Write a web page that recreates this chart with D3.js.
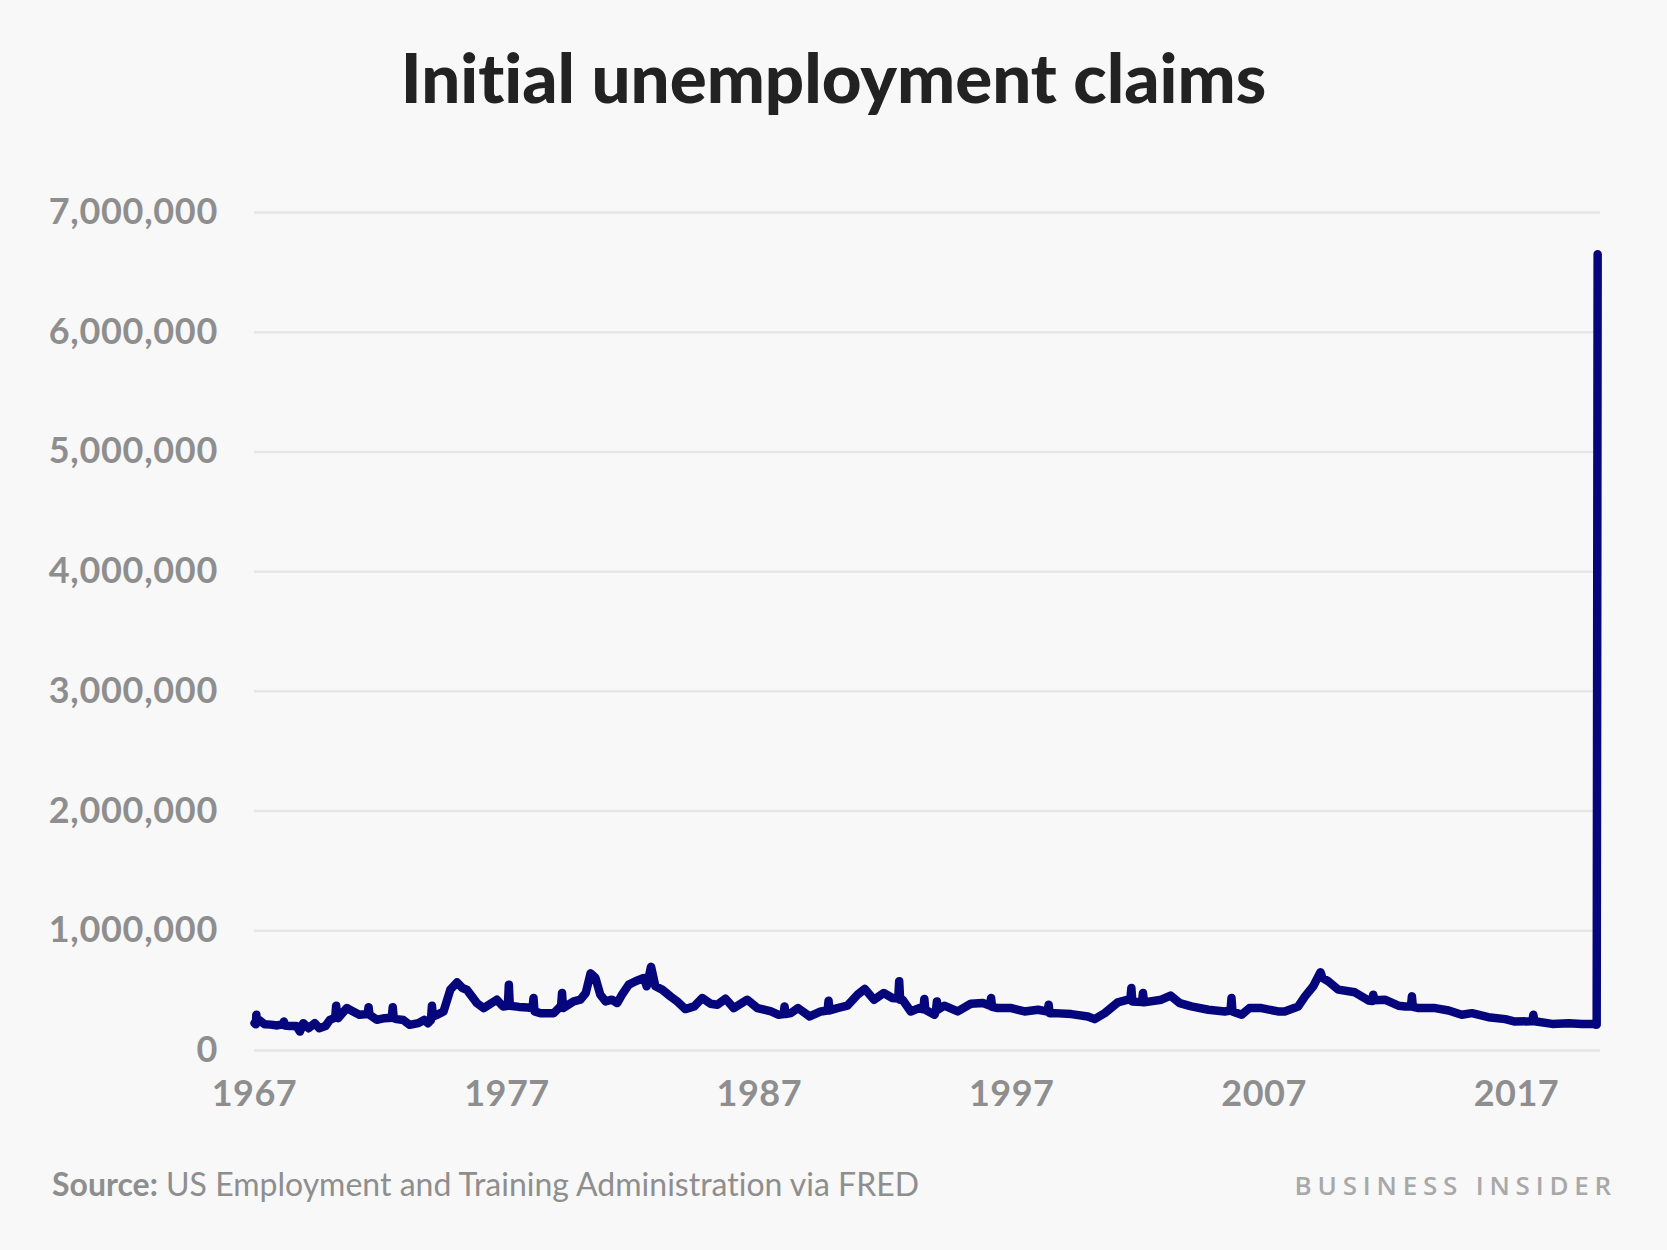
<!DOCTYPE html>
<html>
<head>
<meta charset="utf-8">
<script src="https://cdn.jsdelivr.net/npm/d3@7"></script>
<style>
  html, body { margin: 0; padding: 0; background: #f8f8f8; }
  svg { display: block; font-family: Lato, "Open Sans", sans-serif; font-variant-ligatures: none; }
</style>
</head>
<body>
<div class="js-chart"></div>
<script>
'use strict';

// weekly initial claims (not every week, just enough to follow the shape)
const weeks = [
    '1967-01-07', '1967-01-28', '1967-02-04', '1967-02-11', '1967-03-18', '1967-06-03', '1967-09-02', '1967-12-02',
    '1968-02-24', '1968-03-09', '1968-03-23', '1968-06-01', '1968-09-07', '1968-10-26', '1968-12-14',
    '1969-03-01', '1969-05-31', '1969-08-02', '1969-11-01',
    '1970-01-03', '1970-03-21', '1970-04-04', '1970-04-18', '1970-05-02', '1970-09-05', '1970-12-05',
    '1971-03-06', '1971-07-03', '1971-07-17', '1971-07-31', '1971-11-13',
    '1972-03-04', '1972-06-17', '1972-07-01', '1972-07-15', '1972-08-26', '1972-12-02',
    '1973-03-03', '1973-07-07', '1973-09-29', '1973-11-24',
    '1974-01-05', '1974-01-19', '1974-02-02', '1974-04-06', '1974-07-06', '1974-10-12',
    '1975-01-18', '1975-04-05', '1975-06-07', '1975-11-01',
    '1976-02-07', '1976-08-14', '1976-11-13',
    '1977-01-22', '1977-02-05', '1977-02-19', '1977-07-02', '1977-11-05',
    '1978-01-14', '1978-01-28', '1978-02-11', '1978-05-06', '1978-11-18',
    '1979-03-03', '1979-03-17', '1979-03-31', '1979-09-01', '1979-12-08',
    '1980-02-23', '1980-05-03', '1980-07-12', '1980-09-20', '1980-12-06',
    '1981-03-07', '1981-05-23', '1981-08-01', '1981-11-07',
    '1982-02-13', '1982-06-12', '1982-07-24', '1982-09-25', '1982-11-27',
    '1983-03-05', '1983-07-02', '1983-10-08',
    '1984-02-04', '1984-06-09', '1984-10-06',
    '1985-02-02', '1985-05-11', '1985-09-07',
    '1986-01-04', '1986-07-19', '1986-12-13',
    '1987-06-27', '1987-10-17', '1987-12-26',
    '1988-01-09', '1988-01-23', '1988-04-09', '1988-07-23',
    '1989-01-07', '1989-06-17', '1989-09-23', '1989-10-07', '1989-10-21',
    '1990-02-10', '1990-07-07', '1990-12-01',
    '1991-03-16', '1991-07-27', '1991-12-14',
    '1992-04-18', '1992-07-11', '1992-07-25', '1992-08-08', '1992-09-12',
    '1993-01-09', '1993-05-08', '1993-07-10', '1993-07-24', '1993-08-07', '1993-12-18',
    '1994-01-08', '1994-01-22', '1994-02-05', '1994-05-07', '1994-11-19',
    '1995-05-27', '1995-11-18',
    '1996-03-02', '1996-03-16', '1996-03-30', '1996-06-22',
    '1997-01-04', '1997-07-12',
    '1998-01-24', '1998-06-13', '1998-06-27', '1998-07-11', '1998-09-19',
    '1999-05-22',
    '2000-01-15', '2000-04-22', '2000-09-16',
    '2001-03-24', '2001-08-18', '2001-09-22', '2001-10-06', '2001-10-20',
    '2002-03-09', '2002-03-23', '2002-04-06', '2002-12-14',
    '2003-04-26', '2003-09-06',
    '2004-02-21', '2004-10-23',
    '2005-06-18', '2005-09-10', '2005-09-24', '2005-10-08',
    '2006-02-18', '2006-06-10', '2006-12-02',
    '2007-07-28', '2007-11-03',
    '2008-05-17', '2008-08-23', '2008-12-20',
    '2009-04-04', '2009-05-02', '2009-07-25', '2009-12-19',
    '2010-08-14',
    '2011-02-26', '2011-04-23', '2011-05-07', '2011-05-21', '2011-10-22',
    '2012-05-05', '2012-08-11', '2012-11-03', '2012-11-17', '2012-12-01',
    '2013-02-23', '2013-10-19',
    '2014-05-03', '2014-11-08',
    '2015-04-04', '2015-11-28',
    '2016-07-30', '2016-12-17',
    '2017-08-26', '2017-09-09', '2017-09-23', '2017-10-21',
    '2018-06-09',
    '2019-02-02', '2019-08-17',
    '2020-01-11', '2020-03-14', '2020-03-21', '2020-03-28'
];

const claims = [
    224000, 215000, 294000, 240000, 250000, 215000, 212000, 205000,
    215000, 238000, 205000, 200000, 200000, 154000, 224000,
    182000, 224000, 182000, 200000,
    252000, 270000, 370000, 280000, 266000, 350000, 322000,
    294000, 300000, 358000, 294000, 252000,
    266000, 270000, 358000, 265000, 258000, 250000,
    210000, 224000, 252000, 224000,
    250000, 370000, 280000, 294000, 322000, 504000,
    565000, 518000, 504000, 392000,
    350000, 420000, 364000,
    370000, 546000, 370000, 360000, 355000,
    350000, 434000, 322000, 308000, 308000,
    370000, 476000, 350000, 406000, 420000,
    476000, 640000, 602000, 462000, 406000,
    420000, 392000, 462000, 546000,
    574000, 602000, 532000, 695000, 532000,
    504000, 448000, 406000,
    342000, 364000, 434000,
    386000, 378000, 428000,
    350000, 420000, 350000,
    322000, 294000, 300000,
    364000, 300000, 308000, 350000,
    280000, 322000, 330000, 412000, 330000,
    350000, 370000, 462000,
    510000, 420000, 476000,
    434000, 430000, 574000, 420000, 420000,
    322000, 350000, 340000, 426000, 336000, 294000,
    330000, 406000, 336000, 370000, 322000,
    386000, 392000,
    370000, 434000, 360000, 350000,
    350000, 322000,
    336000, 320000, 378000, 308000, 308000,
    300000,
    280000, 258000, 308000,
    398000, 420000, 430000, 518000, 406000,
    400000, 476000, 398000, 420000,
    454000, 392000,
    364000, 336000,
    322000, 330000, 434000, 322000,
    294000, 350000, 350000,
    322000, 322000,
    364000, 448000, 532000,
    650000, 602000, 574000, 504000,
    482000,
    414000, 410000, 462000, 415000, 420000,
    370000, 364000, 365000, 448000, 360000,
    350000, 350000,
    330000, 294000,
    308000, 274000,
    258000, 238000,
    240000, 294000, 245000, 238000,
    218000,
    224000, 218000,
    218000, 211000, 3307000, 6648000
];

const yTicks = [0, 1000000, 2000000, 3000000, 4000000, 5000000, 6000000, 7000000];
const yearTicks = [1967, 1977, 1987, 1997, 2007, 2017];

const titleText = 'Initial unemployment claims';
const sourceLabel = 'Source:';
const sourceText = ' US Employment and Training Administration via FRED';
const brandText = 'BUSINESS INSIDER';

const width = 1667;
const height = 1250;
const margin = { top: 212, right: 67, bottom: 200, left: 254 };
const graphWidth = width - margin.left - margin.right;
const graphHeight = height - margin.top - margin.bottom;

const parseDate = d3.timeParse('%Y-%m-%d');
const data = weeks.map((w, i) => ({ date: parseDate(w), value: claims[i] }));

// svg container
const svg = d3.select('.js-chart')
    .append('svg')
    .attr('width', width)
    .attr('height', height);

svg.append('rect')
    .attr('width', width)
    .attr('height', height)
    .attr('fill', '#f8f8f8');

const graph = svg.append('g')
    .attr('transform', `translate(${margin.left}, ${margin.top})`);

// scales
const x = d3.scaleTime()
    .domain([new Date(1967, 0, 1), new Date(2020, 4, 1)])
    .range([0, graphWidth]);

const y = d3.scaleLinear()
    .domain([0, 7000000])
    .range([graphHeight, 0]);

// y axis with gridlines
const yAxis = d3.axisLeft(y)
    .tickValues(yTicks)
    .tickFormat(d3.format(','))
    .tickSize(-graphWidth)
    .tickPadding(36);

const yAxisGroup = graph.append('g')
    .attr('class', 'y-axis')
    .call(yAxis);

yAxisGroup.select('.domain').remove();
yAxisGroup.selectAll('line')
    .attr('stroke', '#e6e6e6')
    .attr('stroke-width', 2.5);
yAxisGroup.selectAll('text')
    .attr('fill', '#8e8e8e')
    .attr('font-size', 36)
    .attr('font-weight', 700)
    .attr('letter-spacing', 0.7)
    .attr('font-family', 'Lato, sans-serif');

// x axis, years only
const xAxis = d3.axisBottom(x)
    .tickValues(yearTicks.map(yr => new Date(yr, 0, 1)))
    .tickFormat(d3.timeFormat('%Y'))
    .tickSize(0)
    .tickPadding(30);

const xAxisGroup = graph.append('g')
    .attr('class', 'x-axis')
    .attr('transform', `translate(0, ${graphHeight})`)
    .call(xAxis);

xAxisGroup.select('.domain').remove();
xAxisGroup.selectAll('text')
    .attr('fill', '#8e8e8e')
    .attr('font-size', 36)
    .attr('font-weight', 700)
    .attr('letter-spacing', 0.5)
    .attr('font-family', 'Lato, sans-serif');

// the line
const line = d3.line()
    .x(d => x(d.date))
    .y(d => y(d.value));

graph.append('path')
    .datum(data)
    .attr('fill', 'none')
    .attr('stroke', '#05057c')
    .attr('stroke-width', 8.5)
    .attr('stroke-linejoin', 'round')
    .attr('stroke-linecap', 'round')
    .attr('d', line);

// title
svg.append('text')
    .attr('x', width / 2)
    .attr('y', 103)
    .attr('text-anchor', 'middle')
    .attr('fill', '#222222')
    .attr('font-size', 69)
    .attr('font-weight', 900)
    .attr('font-family', 'Lato, sans-serif')
    .text(titleText);

// source note
const source = svg.append('text')
    .attr('x', 52)
    .attr('y', 1196)
    .attr('fill', '#8e8e8e')
    .attr('font-size', 32)
    .attr('font-family', 'Lato, sans-serif');

source.append('tspan')
    .attr('font-weight', 700)
    .text(sourceLabel);
source.append('tspan')
    .text(sourceText);

// brand
svg.append('text')
    .attr('x', 1617)
    .attr('y', 1195)
    .attr('text-anchor', 'end')
    .attr('fill', '#a8a8a8')
    .attr('font-size', 26)
    .attr('font-weight', 600)
    .attr('letter-spacing', 5.8)
    .attr('font-family', '"Open Sans", sans-serif')
    .text(brandText);
</script>
</body>
</html>
